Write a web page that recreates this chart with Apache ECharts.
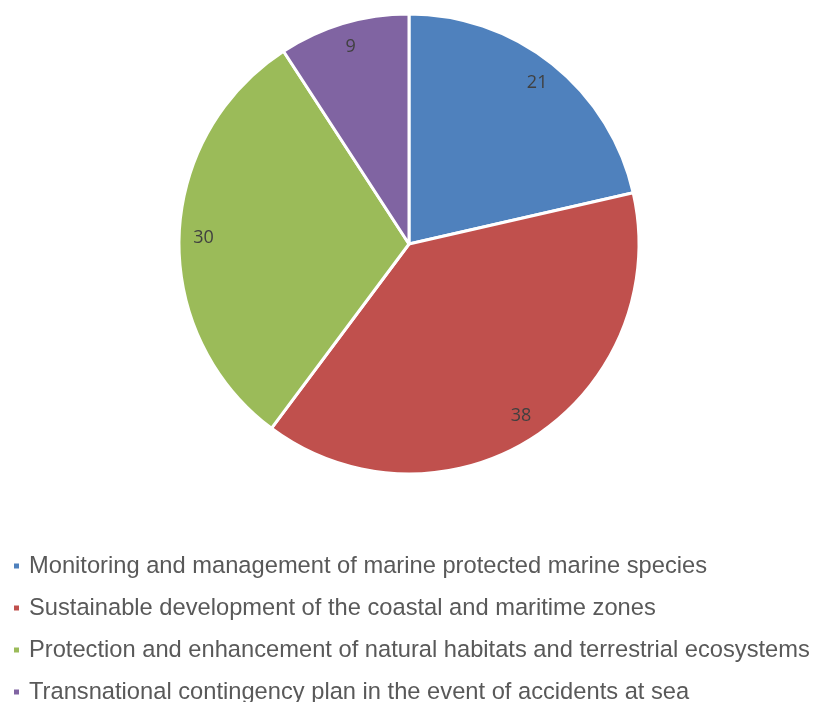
<!DOCTYPE html>
<html><head><meta charset="utf-8">
<script src="https://cdn.jsdelivr.net/npm/echarts@6/dist/echarts.min.js"></script>
<style>html,body{margin:0;padding:0;background:#fff}#c{width:819px;height:702px}</style>
</head><body><div id="c"></div>
<script>
const categories = [
  "Monitoring and management of marine protected marine species",
  "Sustainable development of the coastal and maritime zones",
  "Protection and enhancement of natural habitats and terrestrial ecosystems",
  "Transnational contingency plan in the event of accidents at sea"
];
const values = [21, 38, 30, 9];
const colors = ["#4F81BD", "#C0504D", "#9BBB59", "#8064A2"];

const data = categories.map((c, i) => ({ name: c, value: values[i], itemStyle: { color: colors[i] } }));
const chart = echarts.init(document.getElementById('c'));
chart.setOption({
  animation: false,
  legend: {
    orient: 'vertical', left: 7, top: 549, height: 200, width: 812,
    itemWidth: 7, itemHeight: 7, icon: 'rect', itemGap: 18,
    textStyle: { fontFamily: "'Liberation Sans', Arial, sans-serif", fontSize: 23.7, color: '#595959', lineHeight: 24, padding: [0, 0, 0, 4] },
    data: categories
  },
  series: [
    {
      type: 'pie', center: [409, 244], radius: [0, 230], startAngle: 90, clockwise: true,
      label: { show: false }, labelLine: { show: false },
      itemStyle: { borderColor: '#fff', borderWidth: 3 },
      data: data
    },
    {
      type: 'pie', center: [409, 244], radius: [175, 230], startAngle: 90, clockwise: true, silent: true,
      itemStyle: { color: 'transparent', borderWidth: 0 },
      label: { show: true, position: 'inside', formatter: '{c}', fontFamily: "'Open Sans', 'Noto Sans', sans-serif", fontSize: 18, color: '#404040' },
      labelLine: { show: false },
      data: values.map((v, i) => ({ name: categories[i] + ' ', value: v }))
    }
  ]
});
</script></body></html>
